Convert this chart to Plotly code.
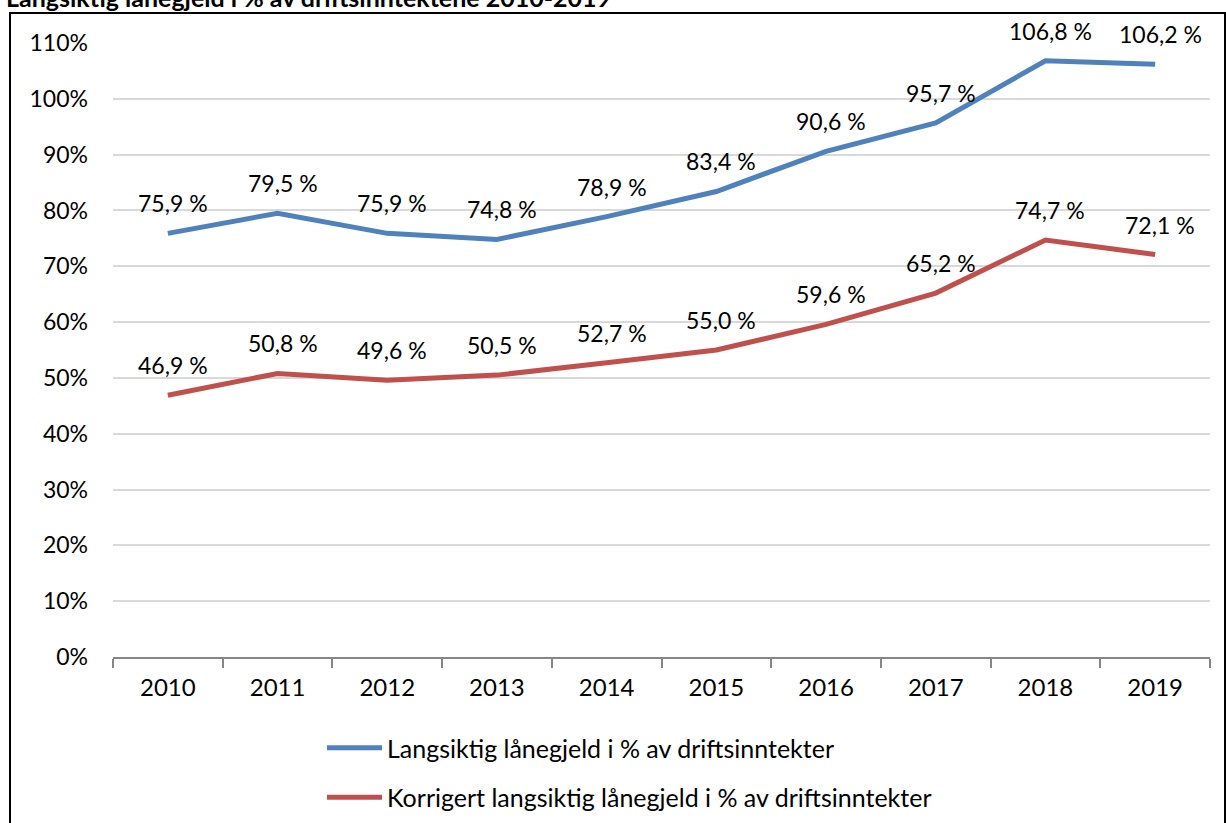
import plotly.graph_objects as go

years = ["2010", "2011", "2012", "2013", "2014", "2015", "2016", "2017", "2018", "2019"]
langsiktig = [75.9, 79.5, 75.9, 74.8, 78.9, 83.4, 90.6, 95.7, 106.8, 106.2]
korrigert = [46.9, 50.8, 49.6, 50.5, 52.7, 55.0, 59.6, 65.2, 74.7, 72.1]
series_names = ["Langsiktig lånegjeld i % av driftsinntekter",
                "Korrigert langsiktig lånegjeld i % av driftsinntekter"]
colors = ["#4F81BD", "#C0504D"]
title_text = "Langsiktig lånegjeld i % av driftsinntektene 2010-2019"

FONT = "Lato"
W, H = 1226, 823
L, R, T, B = 113, 16, 43, 166
pw, ph = W - L - R, H - T - B

def px_x(p):
    return (p - L) / pw

def px_y(p):
    return (H - B - p) / ph

fig = go.Figure()
for i, (name, vals) in enumerate(zip(series_names, [langsiktig, korrigert])):
    fig.add_trace(go.Scatter(
        x=years, y=vals, mode="lines", name=name,
        line=dict(color=colors[i], width=5),
        legendgroup=f"g{i}",
    ))
    for j, v in enumerate(vals):
        fig.add_annotation(
            x=j, y=v, xref="x", yref="y", text=f"{v:.1f} %".replace(".", ","),
            showarrow=False, yshift=30, xshift=5,
            font=dict(family=FONT, size=23, color="#000000"),
        )

fig.add_annotation(
    xref="paper", yref="paper", x=px_x(4), y=px_y(-3),
    xanchor="left", yanchor="middle", text=f"<b>{title_text}</b>",
    showarrow=False, font=dict(family=FONT, size=25, color="#000000"),
)

fig.add_shape(type="rect", xref="paper", yref="paper",
              x0=px_x(10), x1=px_x(1225), y0=px_y(830), y1=px_y(13),
              line=dict(color="#000000", width=2), layer="above")

fig.update_layout(
    width=W, height=H,
    margin=dict(l=L, r=R, t=T, b=B, autoexpand=False),
    paper_bgcolor="white", plot_bgcolor="white",
    font=dict(family=FONT, size=22, color="#000000"),
    showlegend=True,
    legend=dict(
        xref="container", yref="container",
        x=322 / W, y=1 - 725 / H, xanchor="left", yanchor="top",
        orientation="v", tracegroupgap=14, itemwidth=55,
        font=dict(family=FONT, size=25, color="#000000"),
        bgcolor="rgba(0,0,0,0)",
    ),
    xaxis=dict(
        type="category", showgrid=False, showline=True,
        linecolor="#868686", linewidth=1.5,
        ticks="outside", ticklen=9, tickcolor="#868686", tickwidth=1.5,
        tickson="boundaries", ticklabelstandoff=8,
        tickfont=dict(family=FONT, size=24), tickangle=0,
        range=[-0.5, 9.5],
    ),
    yaxis=dict(
        range=[0, 110], dtick=10, ticksuffix="%",
        showgrid=True, gridcolor="#D9D9D9", gridwidth=1.5,
        zeroline=False, showline=False, ticks="",
        ticklabelstandoff=24,
        tickfont=dict(family=FONT, size=23),
    ),
)

fig.write_html("out.html", config={"displayModeBar": False},
               post_script="document.body.style.margin='0';")
